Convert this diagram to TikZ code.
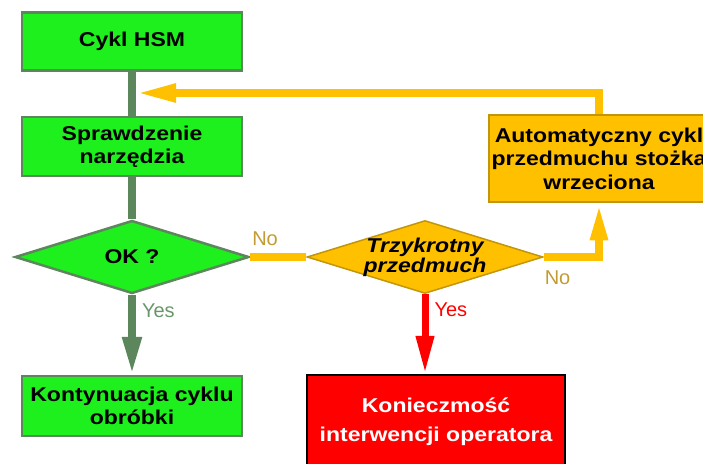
\documentclass[tikz,border=0pt]{standalone}
\usepackage{fontspec}
\setmainfont{Liberation Sans}
\newfontfamily\boxfont{Liberation Sans}[FakeStretch=1.15]
\usetikzlibrary{arrows.meta,shapes.geometric}
\definecolor{okfill}{RGB}{30,240,30}
\definecolor{okline}{RGB}{92,135,92}
\definecolor{airfill}{RGB}{255,192,0}
\definecolor{airline}{RGB}{195,150,10}
\definecolor{stopc}{RGB}{255,0,0}
\definecolor{nolab}{RGB}{195,155,50}
\definecolor{yeslab}{RGB}{105,150,105}

\begin{document}
\begin{tikzpicture}[x=1pt,y=-1pt,
  every node/.style={font=\boxfont\bfseries\fontsize{20}{23.5}\selectfont},
  blok/.style={draw,line width=2.5pt,minimum width=220pt,align=center,inner sep=0pt},
  decyzja/.style={draw,diamond,line width=2.5pt,minimum width=234pt,minimum height=73pt,inner sep=0pt},
  lab/.style={font=\fontsize{20}{24}\selectfont,inner sep=0pt}]
  \useasboundingbox (0,0) rectangle (703,463);
  \clip (0,0) rectangle (703,463);
  \node[blok,fill=okfill,draw=okline,minimum height=58pt] (hsm) at (132,41.5) {Cykl HSM};
  \node[blok,fill=okfill,draw=okline,minimum height=59pt] (chk) at (132,146.5) {Sprawdzenie\\narzędzia};
  \node[decyzja,fill=okfill,draw=okline,label={center:OK ?}] (ok) at (132,257) {};
  \node[blok,fill=okfill,draw=okline,minimum height=60pt] (cont) at (132,406) {Kontynuacja cyklu\\obróbki};
  \node[decyzja,fill=airfill,draw=airline,line width=1.5pt,minimum width=236pt,
    label={[align=center,font=\boxfont\bfseries\itshape\fontsize{20}{20}\selectfont]center:Trzykrotny\\przedmuch}] (tp) at (425,257) {};
  \node[blok,fill=airfill,draw=airline,minimum height=87pt] (auto) at (599,158.5) {Automatyczny cykl\\przedmuchu stożka\\wrzeciona};
  \node[blok,fill=stopc,draw=black,text=white,minimum width=258pt,minimum height=94pt,
    font=\boxfont\bfseries\fontsize{20}{29}\selectfont] (op) at (436,422) {Konieczmość\\interwencji operatora};
  \coordinate (j) at (136,93);

  \draw[okline,line width=8pt] (hsm) -- (chk);
  \draw[okline,line width=8pt] (chk) -- (ok);
  \draw[okline,line width=8pt,-{Triangle[length=38pt,width=18pt]}] (ok) -- (cont)
    node[lab,text=yeslab,anchor=west,pos=0.2,xshift=6pt] {Yes};
  \draw[airfill,line width=8pt] (ok) -- (tp)
    node[lab,text=nolab,anchor=south west,pos=0,xshift=-2pt,yshift=7pt] {No};
  \draw[stopc,line width=7pt,-{Triangle[length=38pt,width=17pt]}] (tp.south) -- (tp.south |- op.north)
    node[lab,text=stopc,anchor=west,pos=0.2,xshift=6pt] {Yes};
  \draw[airfill,line width=8pt,-{Triangle[length=37pt,width=16pt]}] (tp) -| (auto)
    node[lab,text=nolab,anchor=north west,pos=0,xshift=-3pt,yshift=-10pt] {No};
  \draw[airfill,line width=8pt,-{Triangle[length=40pt,width=17pt]}] (auto) |- (j);
\end{tikzpicture}
\end{document}
